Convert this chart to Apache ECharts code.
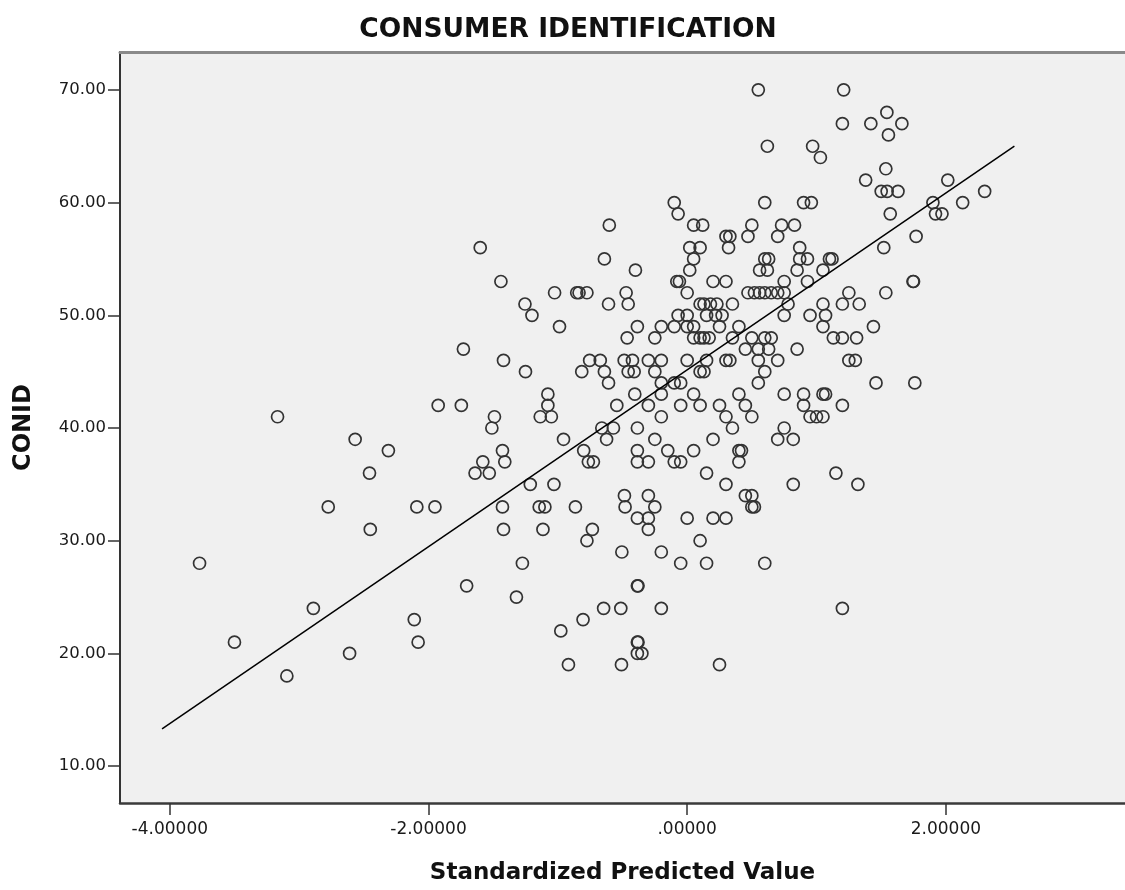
<!DOCTYPE html>
<html>
<head>
<meta charset="utf-8">
<script src="https://cdn.jsdelivr.net/npm/echarts@6/dist/echarts.min.js"></script>
<style>html,body{margin:0;padding:0;background:#fff}#c{width:1125px;height:890px}</style>
</head>
<body>
<div id="c"></div>
<script>
// Standardized predicted value (x) and CONID (y)
const predicted = [
 -3.167,-2.567,-2.31,-2.456,-2.775,-2.09,-1.95,-2.45,-3.77,-1.705,-2.89,-2.11,-3.5,-2.08,-2.61,-3.095,-1.925,-1.746,-1.49,-1.51,-1.58,-1.64,-1.53,
 -0.602,-1.60,-0.64,-0.40,-1.44,-1.025,-0.854,-0.836,-0.775,-0.472,-1.254,-0.608,-0.456,-1.20,-0.987,-0.385,-0.464,-1.73,-1.42,-0.754,-0.672,-0.487,-0.423,-1.25,-0.815,-0.64,-0.456,-0.41,-0.608,-1.077,-1.077,-0.544,-0.405,-1.136,-1.05,
 -0.66,-0.57,-0.385,-0.956,-0.623,-0.385,-1.428,-0.80,-1.41,-0.764,-0.725,-0.385,-1.213,-1.03,-0.485,-1.428,-1.144,-1.10,-0.864,-0.48,-0.385,-1.42,-1.115,-0.733,-0.775,-0.505,-1.274,-0.385,-1.32,-0.646,-0.513,-0.805,-0.977,-0.385,-0.385,-0.918,-0.508,
 1.544,1.42,1.66,1.556,1.536,1.38,2.015,1.50,1.546,1.63,2.30,1.90,2.13,1.92,1.97,1.57,1.77,1.52,1.746,1.75,1.536,1.33,1.44,1.31,1.30,1.46,1.76,
 0.55,1.21,1.2,0.62,0.97,1.03,-0.1,0.6,0.9,0.96,-0.07,0.05,0.12,0.5,0.73,0.83,0.3,0.33,0.47,0.7,0.02,0.1,0.32,0.87,
 0.05,0.6,0.63,0.87,0.93,1.1,1.12,0.02,0.56,0.62,0.85,1.05,-0.08,-0.06,0.2,0.3,0.75,0.93,
 0.0,0.47,0.52,0.56,0.6,0.65,0.7,0.75,1.25,0.1,0.13,0.18,0.23,0.35,0.78,1.05,1.2,
 -0.07,0.0,0.15,0.22,0.27,0.75,0.95,1.07,-0.2,-0.1,0.0,0.05,0.25,0.4,1.05,
 -0.25,0.05,0.1,0.13,0.17,0.35,0.5,0.6,0.65,1.13,1.2,0.45,0.55,0.63,0.85,
 -0.3,-0.2,0.0,0.15,0.3,0.33,0.55,0.7,1.25,-0.25,0.1,0.13,0.6,-0.2,-0.1,-0.05,0.55,
 -0.2,0.05,0.4,0.75,0.9,1.05,1.07,-0.3,-0.05,0.1,0.25,0.45,0.9,1.2,-0.2,0.3,0.5,0.95,1.0,1.05,
 0.35,0.75,-0.25,0.2,0.7,0.82,-0.15,0.05,0.4,0.42,-0.3,-0.1,-0.05,0.4,0.15,1.15,0.3,0.82,1.32,
 -0.3,0.45,0.5,-0.25,0.5,0.52,-0.3,0.0,0.2,0.3,-0.3,0.1,-0.2,-0.05,0.15,0.6,-0.38,-0.2,1.2,-0.38,-0.35,0.25
];
const conid = [
 41,39,38,36,33,33,33,31,28,26,24,23,21,21,20,18,42,42,41,40,37,36,36,
 58,56,55,54,53,52,52,52,52,52,51,51,51,50,49,49,48,47,46,46,46,46,46,45,45,45,45,45,44,43,42,42,43,41,41,
 40,40,40,39,39,38,38,38,37,37,37,37,35,35,34,33,33,33,33,33,32,31,31,31,30,29,28,26,25,24,24,23,22,21,20,19,19,
 68,67,67,66,63,62,62,61,61,61,61,60,60,59,59,59,57,56,53,53,52,51,49,48,46,44,44,
 70,70,67,65,65,64,60,60,60,60,59,58,58,58,58,58,57,57,57,57,56,56,56,56,
 55,55,55,55,55,55,55,54,54,54,54,54,53,53,53,53,53,53,
 52,52,52,52,52,52,52,52,52,51,51,51,51,51,51,51,51,
 50,50,50,50,50,50,50,50,49,49,49,49,49,49,49,
 48,48,48,48,48,48,48,48,48,48,48,47,47,47,47,
 46,46,46,46,46,46,46,46,46,45,45,45,45,44,44,44,44,
 43,43,43,43,43,43,43,42,42,42,42,42,42,42,41,41,41,41,41,41,
 40,40,39,39,39,39,38,38,38,38,37,37,37,37,36,36,35,35,35,
 34,34,34,33,33,33,32,32,32,32,31,30,29,28,28,28,26,24,24,21,20,19
];
// Fit line end points
const fitX = [-4.06, 2.53];
const fitY = [13.3, 65.0];
// Tick values
const xTicks = [-4, -2, 0, 2];
const yTicks = [10, 20, 30, 40, 50, 60, 70];

const points = predicted.map((x, i) => [x, conid[i]]);
const fit = fitX.map((x, i) => [x, fitY[i]]);

const chart = echarts.init(document.getElementById('c'), null, {renderer: 'canvas'});
const labelFont = {fontFamily: 'DejaVu Sans', color: '#1a1a1a'};
chart.setOption({
  animation: false,
  backgroundColor: '#ffffff',
  title: {
    text: 'CONSUMER IDENTIFICATION',
    left: 563, top: 12, textAlign: 'center',
    textStyle: {fontFamily: 'DejaVu Sans', fontWeight: 'bold', fontSize: 26.5, color: '#111'}
  },
  grid: {left: 120, right: 0, top: 52, bottom: 85, show: true, backgroundColor: '#f0f0f0', borderWidth: 0},
  xAxis: [{
    type: 'value', min: -4.385, max: 3.385, position: 'bottom',
    splitLine: {show: false},
    axisLine: {show: true, onZero: false, lineStyle: {color: '#3a3a3a', width: 2.5}},
    axisTick: {show: true, customValues: xTicks, length: 12, lineStyle: {color: '#333', width: 1.5}},
    axisLabel: {customValues: xTicks, margin: 18, fontSize: 17, ...labelFont,
      formatter: v => v === 0 ? '.00000' : v.toFixed(5)},
    name: 'Standardized Predicted Value', nameLocation: 'middle', nameGap: 59,
    nameTextStyle: {fontFamily: 'DejaVu Sans', fontWeight: 'bold', fontSize: 23, color: '#111'}
  }, {
    type: 'value', min: -4.385, max: 3.385, position: 'top',
    splitLine: {show: false}, axisTick: {show: false}, axisLabel: {show: false},
    axisLine: {show: true, lineStyle: {color: '#8a8a8a', width: 3}}
  }],
  yAxis: {
    type: 'value', min: 6.73, max: 73.36,
    splitLine: {show: false},
    axisLine: {show: true, onZero: false, lineStyle: {color: '#333', width: 2}},
    axisTick: {show: true, customValues: yTicks, length: 12, lineStyle: {color: '#333', width: 1.5}},
    axisLabel: {customValues: yTicks, margin: 14, fontSize: 16.5, ...labelFont, formatter: v => v.toFixed(2)},
    name: 'CONID', nameLocation: 'middle', nameGap: 84, nameRotate: 90,
    nameTextStyle: {fontFamily: 'DejaVu Sans', fontWeight: 'bold', fontSize: 24, color: '#111'}
  },
  series: [{
    type: 'scatter', data: points, symbol: 'circle', symbolSize: 12,
    itemStyle: {color: 'rgba(0,0,0,0)', borderColor: '#333', borderWidth: 1.7, opacity: 1},
    emphasis: {disabled: true}
  }, {
    type: 'line', data: fit, showSymbol: false, symbol: 'none',
    lineStyle: {color: '#000', width: 1.5}, emphasis: {disabled: true}
  }]
});
</script>
</body>
</html>
